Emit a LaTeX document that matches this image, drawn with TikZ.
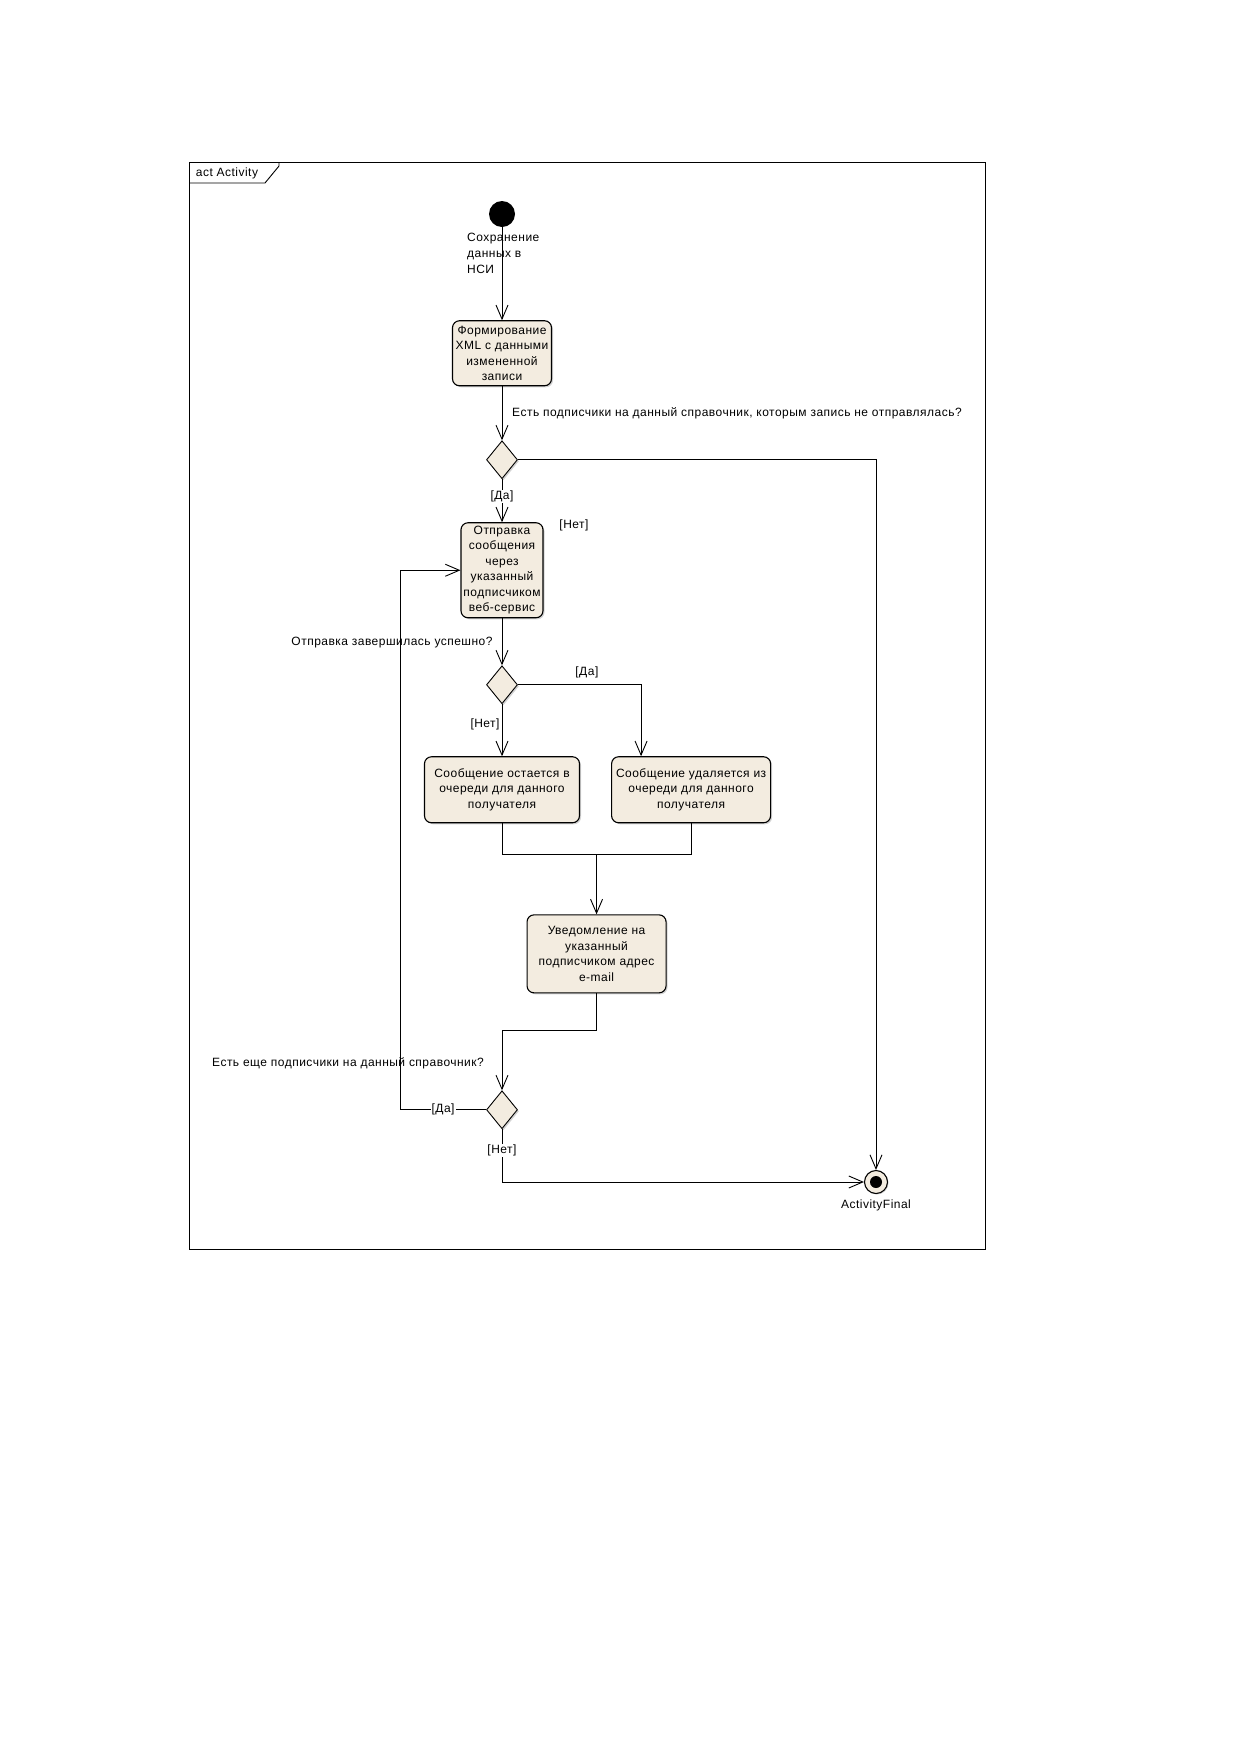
\documentclass[tikz,border=0pt]{standalone}
\usepackage{fontspec}
\setmainfont[LetterSpace=4]{Liberation Sans}
\usetikzlibrary{shapes,arrows.meta,positioning,shadows,calc}
\definecolor{actfill}{RGB}{243,236,224}
\tikzstyle{Action} = [draw, rectangle, rounded corners=7pt, line width=1.1pt, fill=actfill, drop shadow={shadow xshift=1.5pt, shadow yshift=-1.5pt, opacity=0.35}, align=center, inner sep=1pt, font=\fontsize{12}{15.5}\selectfont]
\tikzstyle{Decision} = [draw, diamond, line width=0.9pt, fill=actfill, minimum width=31pt, minimum height=38pt, inner sep=0pt, drop shadow={shadow xshift=1.5pt, shadow yshift=-1.5pt, opacity=0.35}]
\tikzstyle{Start} = [circle, fill=black, minimum size=26pt, inner sep=0pt]
\tikzstyle{Final} = [circle, draw, line width=1.1pt, fill=actfill, minimum size=23pt, inner sep=0pt, drop shadow={shadow xshift=1pt, shadow yshift=-1pt, opacity=0.35}]
\tikzstyle{Note} = [inner sep=1pt, font=\fontsize{12}{16}\selectfont]
\tikzstyle{Guard} = [Note, fill=white]
\tikzstyle{Flow} = [-{Straight Barb[length=14pt,width=12pt]}, line width=0.9pt]

\begin{document}
\begin{tikzpicture}[x=1pt, y=-1pt]
    \useasboundingbox (0,0) rectangle (1240,1754);
    \draw[line width=0.9pt] (189,162) rectangle (985,1249);
    \draw[line width=0.9pt] (189,183) -- (265,183) -- (279,166) -- (279,162);
    \node[Note] (title) at (227,173) {act Activity};

    \node[Start]    (start)  at (502,214)               {};
    \node[Action, minimum width=99pt, minimum height=65pt]  (form)   [below=93pt of start]  {Формирование\\XML с данными\\измененной\\записи};
    \node[Decision] (dec1)   [below=54pt of form]       {};
    \node[Action, minimum width=82pt, minimum height=95pt]  (send)   [below=43pt of dec1]   {Отправка\\сообщения\\через\\указанный\\подписчиком\\веб-сервис};
    \node[Decision] (dec2)   [below=47pt of send]       {};
    \node[Action, minimum width=155pt, minimum height=66pt] (keep)   [below=52pt of dec2]   {Сообщение остается в\\очереди для данного\\получателя};
    \node[Action, minimum width=159pt, minimum height=66pt] (remove) [right=31pt of keep]   {Сообщение удаляется из\\очереди для данного\\получателя};
    \coordinate (merge) at ($(keep.south)!0.5!(remove.south)+(0,31)$);
    \node[Action, minimum width=139pt, minimum height=78pt] (notify) [below=60pt of merge]  {Уведомление на\\указанный\\подписчиком адрес\\e-mail};
    \node[Decision] (dec3)   [below=267pt of keep]      {};
    \node[Final]    (final)  at (876,1182)              {};
    \fill (final) circle (6pt);

    \node[Note, anchor=north west, align=left] (savelbl) at (466,232) {Сохранение\\данных в\\НСИ};
    \node[Note, anchor=west] (q1) at (511,413) {Есть подписчики на данный справочник, которым запись не отправлялась?};
    \node[Note] (no1) at (574,525) {[Нет]};
    \node[Note] (q2) at (392,643) {Отправка завершилась успешно?};
    \node[Note] (q3) at (348,1063) {Есть еще подписчики на данный справочник?};
    \node[Note, below=5pt of final] (finlbl) {ActivityFinal};

    \draw[Flow] (start) to (form);
    \draw[Flow] (form) to (dec1);
    \draw[Flow] (dec1) to node[Guard, pos=0.4] {[Да]} (send);
    \draw[Flow] (dec1) -| (final);
    \draw[Flow] (send) to (dec2);
    \draw[Flow] (dec2) to node[Note, pos=0.38, left=1pt] {[Нет]} (keep);
    \draw[Flow] (dec2.east) -| node[Note, pos=0.28, above=5pt] {[Да]} ($(remove.north west)+(30,0)$);
    \draw[line width=0.9pt] (keep) |- (merge) -| (remove);
    \draw[Flow] (merge) to (notify);
    \draw[Flow] (notify.south) -- ++(0,37) -| (dec3.north);
    \draw[Flow] (dec3.west) -- node[Guard] {[Да]} ++(-86,0) |- (send.west);
    \draw[Flow] (dec3) |- node[Guard, pos=0.2] {[Нет]} (final);
\end{tikzpicture}
\end{document}
